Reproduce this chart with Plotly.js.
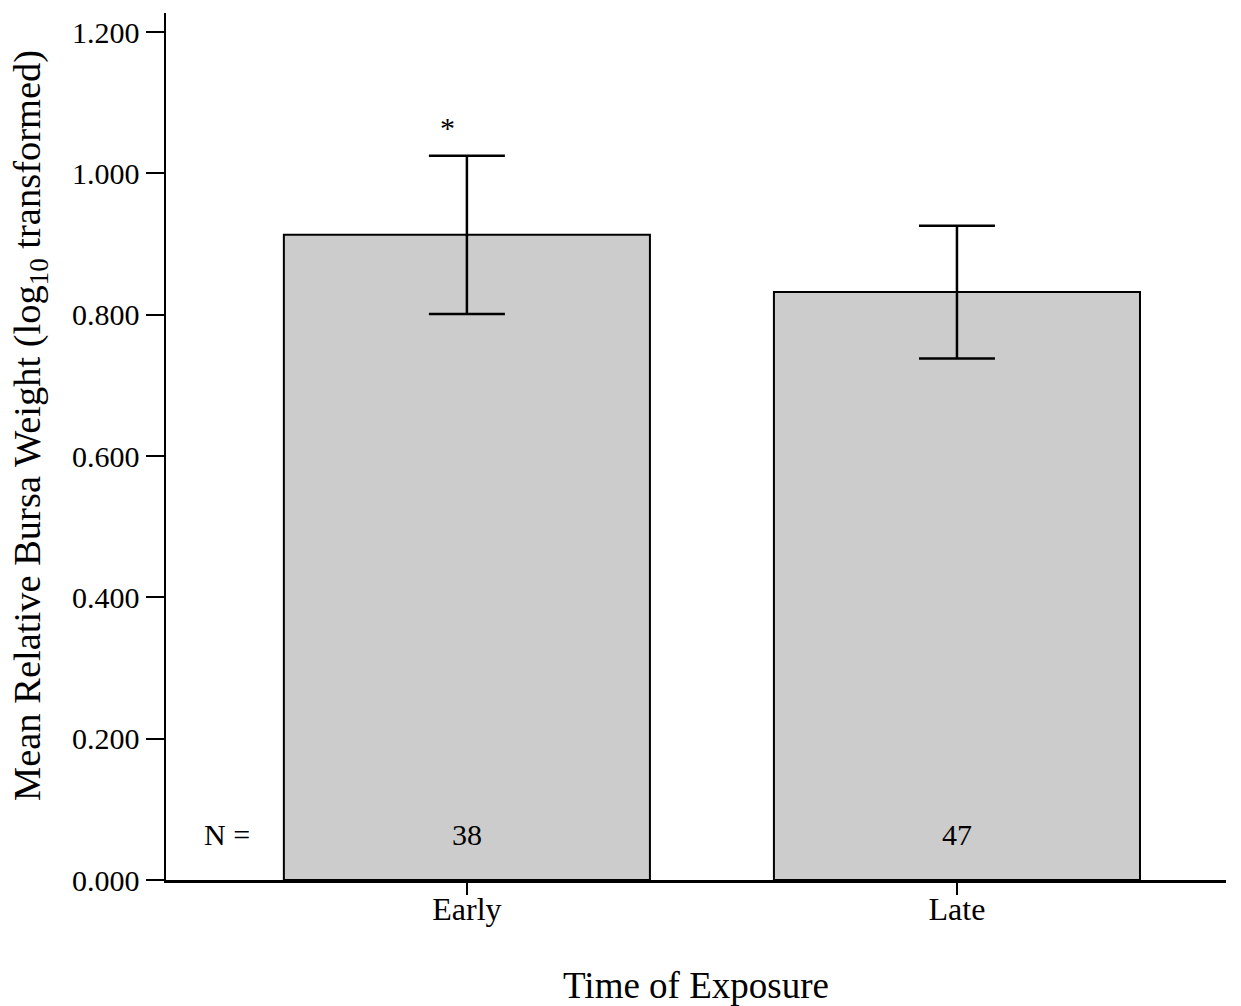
<!DOCTYPE html>
<html>
<head>
<meta charset="utf-8">
<script src="https://cdn.plot.ly/plotly-3.0.1.min.js"></script>
<style>html,body{margin:0;padding:0;background:#fff;}#chart{width:1241px;height:1006px;}</style>
</head>
<body>
<div id="chart"></div>
<script>
const categories = ["Early", "Late"];
const means = [0.913, 0.832];
const errors = [0.112, 0.094];
const nValues = [38, 47];
const significance = ["*", ""];
const yTickVals = [0, 0.2, 0.4, 0.6, 0.8, 1.0, 1.2];
const xTitle = "Time of Exposure";
const yTitle = "Mean Relative Bursa Weight (log<sub>10</sub> transformed)";

const FONT = "Liberation Serif, Times New Roman, serif";

const trace = {
  type: "bar",
  x: categories,
  y: means,
  width: 0.747,
  marker: {color: "#cccccc", line: {color: "#000", width: 2}},
  error_y: {type: "data", array: errors, visible: true, color: "#000", thickness: 2.5, width: 38},
  hoverinfo: "none"
};

const annotations = [{
  x: -0.49, y: 0.064, xref: "x", yref: "y", text: "N =", showarrow: false,
  font: {family: FONT, size: 30, color: "#000"}
}, {
  x: -0.1283, y: 0.5236, xref: "paper", yref: "paper", text: yTitle, textangle: -90,
  showarrow: false, xanchor: "center", yanchor: "middle",
  font: {family: FONT, size: 38.5, color: "#000"}
}];
categories.forEach((c, i) => {
  annotations.push({
    x: i, y: 0.064, xref: "x", yref: "y", text: String(nValues[i]), showarrow: false,
    font: {family: FONT, size: 30, color: "#000"}
  });
  if (significance[i]) {
    annotations.push({
      x: i - 0.04, y: means[i] + errors[i] + 0.04, xref: "x", yref: "y", text: significance[i], showarrow: false,
      font: {family: FONT, size: 30, color: "#000"}
    });
  }
});

const layout = {
  width: 1241, height: 1006,
  margin: {l: 166, r: 15, t: 13, b: 126},
  paper_bgcolor: "#fff", plot_bgcolor: "#fff",
  showlegend: false,
  font: {family: FONT, color: "#000"},
  xaxis: {
    type: "category",
    range: [-0.614, 1.549],
    showline: true, linecolor: "#000", linewidth: 2.5,
    ticks: "outside", ticklen: 12, tickwidth: 2, tickcolor: "#000",
    ticklabelstandoff: -13,
    showgrid: false, zeroline: false,
    tickfont: {family: FONT, size: 32, color: "#000"},
    title: {text: xTitle, font: {family: FONT, size: 37, color: "#000"}, standoff: 53}
  },
  yaxis: {
    range: [0, 1.227],
    tickvals: yTickVals,
    tickformat: ".3f",
    showline: true, linecolor: "#000", linewidth: 2.5,
    ticks: "outside", ticklen: 18, tickwidth: 2, tickcolor: "#000",
    showgrid: false, zeroline: false,
    tickfont: {family: FONT, size: 30, color: "#000"}
  },
  annotations: annotations
};

Plotly.newPlot("chart", [trace], layout, {displayModeBar: false, staticPlot: true});
</script>
</body>
</html>
